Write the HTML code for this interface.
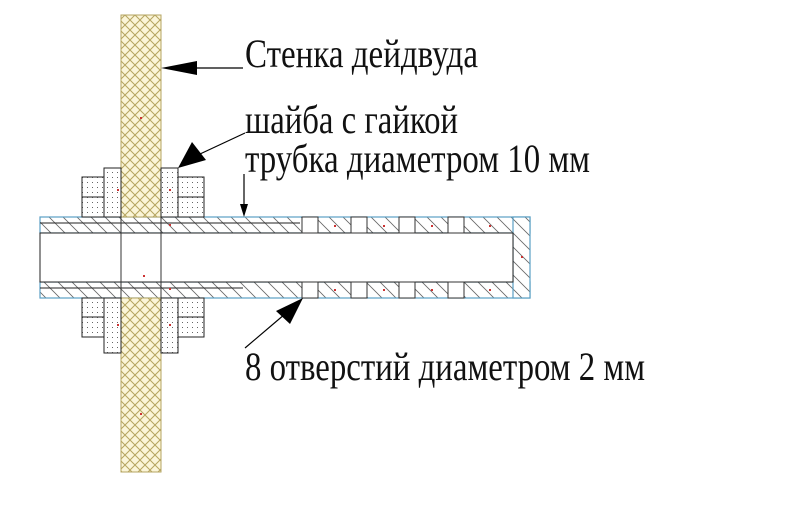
<!DOCTYPE html>
<html><head><meta charset="utf-8"><style>
html,body{margin:0;padding:0;background:#fff;}
svg{display:block;}
text{font-family:"Liberation Serif",serif;font-size:40px;fill:#111;}
</style></head><body>
<svg width="800" height="521" viewBox="0 0 800 521" xmlns="http://www.w3.org/2000/svg">
<defs>
<pattern id="cross" width="10" height="10" patternUnits="userSpaceOnUse">
<rect width="10" height="10" fill="#fbf5d8"/>
<path d="M0,0L10,10M10,0L0,10" stroke="#b5a460" stroke-width="1"/>
</pattern>
<pattern id="dots" width="5" height="5" patternUnits="userSpaceOnUse">
<rect width="5" height="5" fill="#fff"/>
<rect x="2" y="2" width="1" height="1" fill="#666"/>
</pattern>
<pattern id="hatch" width="14" height="14" patternUnits="userSpaceOnUse">
<rect width="14" height="14" fill="#fff"/>
<path d="M0,0L14,14M-7,7L7,21M7,-7L21,7" stroke="#666" stroke-width="0.8"/>
</pattern>
</defs>

<rect x="40" y="217" width="490" height="16" fill="url(#hatch)" stroke="#5a9fc4" stroke-width="1.2"/>
<rect x="40" y="282" width="490" height="16" fill="url(#hatch)" stroke="#5a9fc4" stroke-width="1.2"/>
<rect x="513" y="217" width="17" height="81" fill="url(#hatch)" stroke="#5a9fc4" stroke-width="1.2"/>
<rect x="40" y="233" width="473" height="49" fill="#fff" stroke="#222" stroke-width="1"/>
<line x1="40" y1="223" x2="300" y2="223" stroke="#222"/>
<line x1="40" y1="288" x2="243" y2="288" stroke="#222"/>
<g fill="#fff" stroke="#333" stroke-width="1">
<rect x="302" y="217" width="16" height="16"/><rect x="351" y="217" width="16" height="16"/>
<rect x="399" y="217" width="16" height="16"/><rect x="448" y="217" width="16" height="16"/>
<rect x="302" y="282" width="16" height="16"/><rect x="351" y="282" width="16" height="16"/>
<rect x="399" y="282" width="16" height="16"/><rect x="448" y="282" width="16" height="16"/>
</g>

<rect x="121" y="15" width="40" height="202" fill="url(#cross)" stroke="#b5a460"/>
<rect x="121" y="298" width="40" height="174" fill="url(#cross)" stroke="#b5a460"/>
<line x1="121" y1="217" x2="121" y2="298" stroke="#333"/>
<line x1="161" y1="217" x2="161" y2="298" stroke="#333"/>

<g fill="url(#dots)" stroke="#222" stroke-width="1">
<rect x="104" y="168" width="17" height="49"/>
<rect x="82" y="177" width="22" height="40"/>
<rect x="161" y="168" width="17" height="49"/>
<rect x="178" y="177" width="26" height="40"/>
<rect x="104" y="298" width="17" height="55"/>
<rect x="82" y="298" width="22" height="39"/>
<rect x="161" y="298" width="17" height="55"/>
<rect x="178" y="298" width="26" height="39"/>
</g>
<g stroke="#222"><line x1="82" y1="197" x2="104" y2="197"/><line x1="178" y1="197" x2="204" y2="197"/>
<line x1="82" y1="317" x2="104" y2="317"/><line x1="178" y1="317" x2="204" y2="317"/></g>
<g fill="#c33">
<rect x="140" y="117" width="2" height="2"/><rect x="117" y="189" width="2" height="2"/><rect x="169" y="189" width="2" height="2"/>
<rect x="143" y="275" width="2" height="2"/><rect x="169" y="224" width="2" height="2"/><rect x="169" y="288" width="2" height="2"/>
<rect x="117" y="324" width="2" height="2"/><rect x="169" y="324" width="2" height="2"/><rect x="140" y="413" width="2" height="2"/>
<rect x="334" y="225" width="2" height="2"/><rect x="383" y="225" width="2" height="2"/><rect x="431" y="225" width="2" height="2"/><rect x="489" y="225" width="2" height="2"/>
<rect x="334" y="289" width="2" height="2"/><rect x="383" y="289" width="2" height="2"/><rect x="431" y="289" width="2" height="2"/><rect x="489" y="289" width="2" height="2"/>
<rect x="521" y="256" width="2" height="2"/>
</g>

<line x1="243" y1="68" x2="190" y2="68" stroke="#000" stroke-width="1.2"/>
<polygon points="161,68 197,61 197,75" fill="#000"/>
<line x1="245" y1="133" x2="200" y2="154" stroke="#000" stroke-width="1.2"/>
<polygon points="178,168 192,142 206,160" fill="#000"/>
<line x1="244" y1="174" x2="244" y2="205" stroke="#000" stroke-width="1.2"/>
<polygon points="244,217 240,204 248,204" fill="#000"/>
<line x1="245" y1="348" x2="285" y2="314" stroke="#000" stroke-width="1.2"/>
<polygon points="303,298 276,311 290,324" fill="#000"/>

<text x="245" y="67" textLength="233" lengthAdjust="spacingAndGlyphs">Стенка дейдвуда</text>
<text x="245" y="133" textLength="213" lengthAdjust="spacingAndGlyphs">шайба с гайкой</text>
<text x="245" y="172" textLength="345" lengthAdjust="spacingAndGlyphs">трубка диаметром 10 мм</text>
<text x="245" y="380" textLength="400" lengthAdjust="spacingAndGlyphs">8 отверстий диаметром 2 мм</text>
</svg>
</body></html>
